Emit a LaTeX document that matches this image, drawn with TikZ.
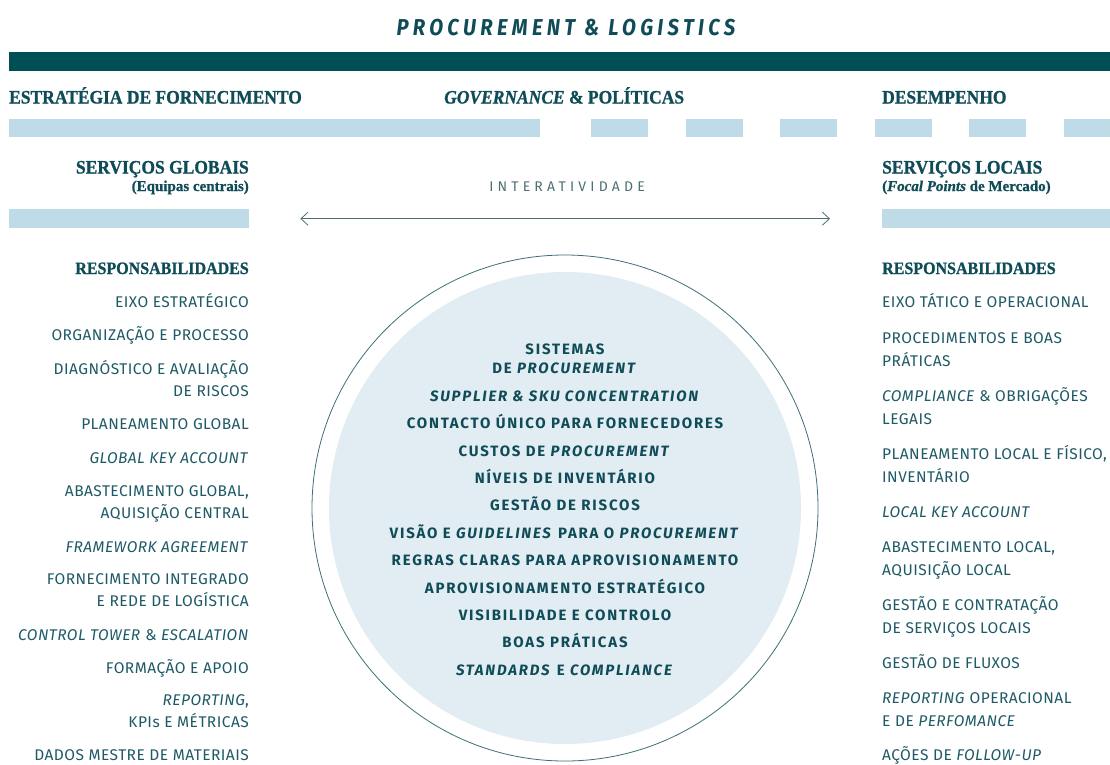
\documentclass[tikz,border=0pt]{standalone}
\usepackage{fontspec}
\setmainfont{Fira Sans}
\newfontfamily\headfont[FakeStretch=0.92,FakeBold=1]{Liberation Serif}
\newfontfamily\subfont[FakeBold=1]{Liberation Serif}
\newfontfamily\titlefont[FakeStretch=0.88,LetterSpace=19]{Fira Sans}
\newfontfamily\ringfont[LetterSpace=12]{Fira Sans}
\newfontfamily\itemfont[LetterSpace=3]{Fira Sans}
\newfontfamily\spacedfont[LetterSpace=30]{Fira Sans}
\usepackage{tikz}
\usetikzlibrary{arrows.meta}
\usetikzlibrary{positioning}

\definecolor{petrol}{HTML}{004F55}
\definecolor{inkteal}{HTML}{0F4C57}
\definecolor{itemteal}{HTML}{1E5A66}
\definecolor{paleblue}{HTML}{BEDBE7}
\definecolor{discblue}{HTML}{E1ECF3}
\definecolor{greyteal}{HTML}{4E6E74}
\definecolor{lineteal}{HTML}{3D6F76}

\begin{document}
\begin{tikzpicture}[x=1pt,y=-1pt,
    head/.style={inner sep=0pt,text=inkteal,font=\headfont\bfseries\fontsize{19}{22}\selectfont},
    sub/.style={inner sep=0pt,text=inkteal,font=\subfont\bfseries\fontsize{15}{18}\selectfont},
    resp/.style={inner sep=0pt,text=inkteal,font=\headfont\bfseries\fontsize{17.4}{22}\selectfont},
    item/.style={inner sep=0pt,text=itemteal},
    gitem/.style={item,align=right,anchor=base east,font=\itemfont\fontsize{15.5}{21.5}\selectfont},
    litem/.style={item,align=left,anchor=base west,font=\itemfont\fontsize{15.5}{22.5}\selectfont},
    band/.style={fill=paleblue,inner sep=0pt,minimum height=19pt,anchor=north west}]
  \useasboundingbox (0,0) rectangle (1110,764);

  % title and top rule
  \node[inner sep=0pt,anchor=base,text=inkteal,font=\titlefont\bfseries\itshape\fontsize{23}{25}\selectfont]
    (title) at (566,35) {PROCUREMENT \& LOGISTICS};
  \fill[petrol] (9,52) rectangle (1110,71);

  % three pillars
  \node[head,anchor=base west] (strat) at (9,103.5) {ESTRATÉGIA DE FORNECIMENTO};
  \node[head,anchor=base west] (gov) at (444,103.5) {\textit{GOVERNANCE} \& POLÍTICAS};
  \node[head,anchor=base west] (perf) at (882,103.5) {DESEMPENHO};
  \fill[paleblue] (9,119) rectangle (540,137);
  \foreach \i in {0,...,5}
    \fill[paleblue] (591+94.5*\i,119) rectangle ++(57,18);

  % global and local services
  \node[head,anchor=base east] (glob) at (249,173.5) {SERVIÇOS GLOBAIS};
  \node[sub,anchor=base east] (globsub) at (249,191) {(Equipas centrais)};
  \node[head,anchor=base west] (loc) at (882,173.5) {SERVIÇOS LOCAIS};
  \node[sub,anchor=base west] (locsub) at (882,191) {(\textit{Focal Points} de Mercado)};
  \node[band,minimum width=240pt] (glbar) at (9,209) {};
  \node[band,minimum width=228pt] (locbar) at (882,209) {};

  \node[inner sep=0pt,anchor=base,text=greyteal,font=\spacedfont\fontsize{14}{16}\selectfont]
    (inter) at (567,191) {INTERATIVIDADE};
  \draw[greyteal,line width=0.8pt,shorten <=51pt,shorten >=52pt,
    {Straight Barb[length=7pt,width=13pt]}-{Straight Barb[length=7pt,width=13pt]}] (glbar) -- (locbar);

  % central disc
  \node[circle,fill=discblue,minimum size=472pt,inner sep=0pt] (disc) at (565,508) {};
  \node[circle,draw=lineteal,line width=0.8pt,minimum size=506pt,inner sep=0pt] (ring) at (565,508) {};
  \node[item,anchor=base,align=center,text=inkteal,font=\ringfont\bfseries\fontsize{15}{19}\selectfont] (core) at (565,675.2) {
    SISTEMAS\\DE \textit{PROCUREMENT}\\[8.4pt]
    \textit{SUPPLIER \& SKU CONCENTRATION}\\[8.4pt]
    CONTACTO ÚNICO PARA FORNECEDORES\\[8.4pt]
    CUSTOS DE \textit{PROCUREMENT}\\[8.4pt]
    NÍVEIS DE INVENTÁRIO\\[8.4pt]
    GESTÃO DE RISCOS\\[8.4pt]
    VISÃO E \textit{GUIDELINES} PARA O \textit{PROCUREMENT}\\[8.4pt]
    REGRAS CLARAS PARA APROVISIONAMENTO\\[8.4pt]
    APROVISIONAMENTO ESTRATÉGICO\\[8.4pt]
    VISIBILIDADE E CONTROLO\\[8.4pt]
    BOAS PRÁTICAS\\[8.4pt]
    \textit{STANDARDS} E \textit{COMPLIANCE}};

  % central teams (placed on the baseline of their last line)
  \node[resp,anchor=base east] (gresp) at (249,274) {RESPONSABILIDADES};
  \node[gitem] (g1) at (249,307.4) {EIXO ESTRATÉGICO};
  \node[gitem] (g2) at (249,340.4) {ORGANIZAÇÃO E PROCESSO};
  \node[gitem] (g3) at (249,396.4) {DIAGNÓSTICO E AVALIAÇÃO\\DE RISCOS};
  \node[gitem] (g4) at (249,429.4) {PLANEAMENTO GLOBAL};
  \node[gitem] (g5) at (249,463.4) {\textit{GLOBAL KEY ACCOUNT}};
  \node[gitem] (g6) at (249,518.4) {ABASTECIMENTO GLOBAL,\\AQUISIÇÃO CENTRAL};
  \node[gitem] (g7) at (249,552.4) {\textit{FRAMEWORK AGREEMENT}};
  \node[gitem] (g8) at (249,606.4) {FORNECIMENTO INTEGRADO\\E REDE DE LOGÍSTICA};
  \node[gitem] (g9) at (249,640.4) {\textit{CONTROL TOWER} \& \textit{ESCALATION}};
  \node[gitem] (g10) at (249,673.4) {FORMAÇÃO E APOIO};
  \node[gitem] (g11) at (249,727.4) {\textit{REPORTING},\\KPIs E MÉTRICAS};
  \node[gitem] (g12) at (249,760.5) {DADOS MESTRE DE MATERIAIS};

  % market focal points
  \node[resp,anchor=base west] (lresp) at (882,274) {RESPONSABILIDADES};
  \node[litem] (l1) at (882,307.4) {EIXO TÁTICO E OPERACIONAL};
  \node[litem] (l2) at (882,366.4) {PROCEDIMENTOS E BOAS\\PRÁTICAS};
  \node[litem] (l3) at (882,424.4) {\textit{COMPLIANCE} \& OBRIGAÇÕES\\LEGAIS};
  \node[litem] (l4) at (882,482.4) {PLANEAMENTO LOCAL E FÍSICO,\\INVENTÁRIO};
  \node[litem] (l5) at (882,517.4) {\textit{LOCAL KEY ACCOUNT}};
  \node[litem] (l6) at (882,575.4) {ABASTECIMENTO LOCAL,\\AQUISIÇÃO LOCAL};
  \node[litem] (l7) at (882,633.4) {GESTÃO E CONTRATAÇÃO\\DE SERVIÇOS LOCAIS};
  \node[litem] (l8) at (882,668.4) {GESTÃO DE FLUXOS};
  \node[litem] (l9) at (882,726.4) {\textit{REPORTING} OPERACIONAL\\E DE \textit{PERFOMANCE}};
  \node[litem] (l10) at (882,760.5) {AÇÕES DE \textit{FOLLOW-UP}};
\end{tikzpicture}
\end{document}
